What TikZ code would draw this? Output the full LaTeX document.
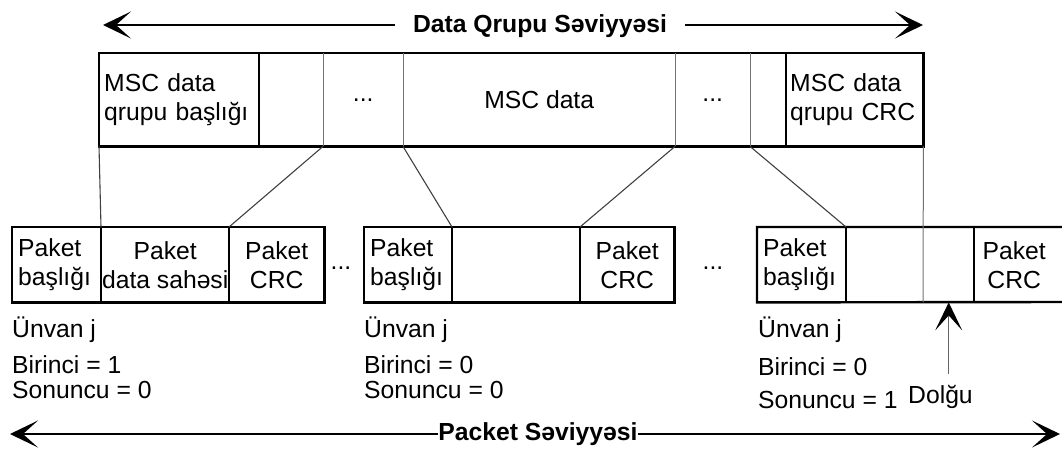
\documentclass[tikz,border=0pt]{standalone}
\usepackage{fontspec}
\setmainfont{Liberation Sans}
\usetikzlibrary{arrows.meta}

\begin{document}
\begin{tikzpicture}[x=1pt,y=-1pt,
    txt/.style={font=\fontsize{24.7}{29}\selectfont},
    topcell/.style={txt, anchor=north west, inner sep=0pt, minimum height=93},
    pktcell/.style={txt, anchor=north west, inner sep=0pt, minimum height=75},
    lbl/.style={txt, anchor=base west, inner sep=0pt},
    title/.style={font=\fontsize{24.7}{29}\selectfont\bfseries, anchor=base, inner ysep=0pt},
    outline/.style={line width=2.4pt},
    divide/.style={line width=2pt},
    thindiv/.style={line width=1pt, black!55},
    link/.style={line width=1.1pt, black!75},
    level/.style={line width=2pt, -{Stealth[length=28pt,width=27pt,inset=15pt]}},
    padarrow/.style={line width=1.4pt, black!60, -{Stealth[length=28pt,width=27pt,inset=15pt,black]}}]
    \useasboundingbox (0,0) rectangle (1062,451);
    \node[topcell, minimum width=160, text width=150, inner xsep=5pt, align=left] (g1) at (99,53) {MSC data\\qrupu başlığı};
    \node[topcell, minimum width=64] (g2) at (259,53) {};
    \node[topcell, minimum width=80] (g3) at (323,53) {...};
    \node[topcell, minimum width=272] (g4) at (403,53) {MSC data};
    \node[topcell, minimum width=75] (g5) at (675,53) {...};
    \node[topcell, minimum width=36] (g6) at (750,53) {};
    \node[topcell, minimum width=137, text width=129, inner xsep=4pt, align=left] (g7) at (786,53) {MSC data\\qrupu CRC};
    \draw[outline] (g1.north west) rectangle (g7.south east);
    \draw[divide] (g2.north west) -- (g2.south west);
    \draw[thindiv] (g3.north west) -- (g3.south west);
    \draw[thindiv] (g4.north west) -- (g4.south west);
    \draw[thindiv] (g5.north west) -- (g5.south west);
    \draw[thindiv] (g6.north west) -- (g6.south west);
    \draw[divide] (g7.north west) -- (g7.south west);
    \node[pktcell, minimum width=89, text width=77, inner xsep=6pt, align=left] (p1a) at (12,227) {Paket\\başlığı};
    \node[pktcell, minimum width=128, align=center] (p1b) at (101,227) {Paket\\data sahəsi};
    \node[pktcell, minimum width=95, align=center] (p1c) at (229,227) {Paket\\CRC};
    \node[pktcell, minimum width=88, text width=76, inner xsep=6pt, align=left] (p2a) at (364,227) {Paket\\başlığı};
    \node[pktcell, minimum width=128] (p2b) at (452,227) {};
    \node[pktcell, minimum width=94, align=center] (p2c) at (580,227) {Paket\\CRC};
    \node[pktcell, minimum width=89, text width=77, inner xsep=6pt, align=left] (p3a) at (757,227) {Paket\\başlığı};
    \node[pktcell, minimum width=77] (p3b) at (846,227) {};
    \node[pktcell, minimum width=51] (p3c) at (923,227) {};
    \node[pktcell, minimum width=80, align=center] (p3d) at (974,227) {Paket\\CRC};
    \coordinate (r3t) at (1062,227);
    \coordinate (r3b) at (1062,302);
    \draw[outline] (p1a.north west) rectangle (p1c.south east);
    \draw[divide] (p1b.north west) -- (p1b.south west);
    \draw[divide] (p1c.north west) -- (p1c.south west);
    \draw[outline] (p2a.north west) rectangle (p2c.south east);
    \draw[divide] (p2b.north west) -- (p2b.south west);
    \draw[divide] (p2c.north west) -- (p2c.south west);
    \draw[outline] (r3t) -- (p3a.north west) -- (p3a.south west) -- (r3b);
    \draw[divide] (p3b.north west) -- (p3b.south west);
    \draw[divide] (p3d.north west) -- (p3d.south west);
    \draw[link] (g1.south west) -- (p1b.north west);
    \draw[link] (g3.south west) -- (p1c.north west);
    \draw[link] (g4.south west) -- (p2b.north west);
    \draw[link] (g5.south west) -- (p2c.north west);
    \draw[link] (g6.south west) -- (p3b.north west);
    \draw[thindiv] (g7.south east) -- (p3c.south west);
    \node[lbl, anchor=base] (gap1) at (341,269) {...};
    \node[lbl, anchor=base] (gap2) at (713,269) {...};
    \node[lbl] (adr1) at (12,337) {Ünvan j};
    \node[lbl] (fst1) at (12,373) {Birinci = 1};
    \node[lbl] (lst1) at (12,398) {Sonuncu = 0};
    \node[lbl] (adr2) at (364,337) {Ünvan j};
    \node[lbl] (fst2) at (364,373) {Birinci = 0};
    \node[lbl] (lst2) at (364,398) {Sonuncu = 0};
    \node[lbl] (adr3) at (758,337) {Ünvan j};
    \node[lbl] (fst3) at (758,375) {Birinci = 0};
    \node[lbl] (lst3) at (758,408) {Sonuncu = 1};
    \node[lbl] (dolgu) at (908,403) {Dolğu};
    \path (dolgu.north -| p3c.south) ++(0,-11) coordinate (dtail);
    \draw[padarrow] (dtail) -- (p3c.south);
    \node[title, inner xsep=18pt] (dqs) at (540,32) {Data Qrupu Səviyyəsi};
    \coordinate (dqsL) at (103,25);
    \coordinate (dqsR) at (923,25);
    \draw[level] (dqs.west |- dqsL) -- (dqsL);
    \draw[level] (dqs.east |- dqsR) -- (dqsR);
    \node[title, inner xsep=0pt] (pks) at (538,440) {Packet Səviyyəsi};
    \coordinate (pksL) at (10,434);
    \coordinate (pksR) at (1060,434);
    \draw[level] (pks.west |- pksL) -- (pksL);
    \draw[level] (pks.east |- pksR) -- (pksR);
\end{tikzpicture}
\end{document}
